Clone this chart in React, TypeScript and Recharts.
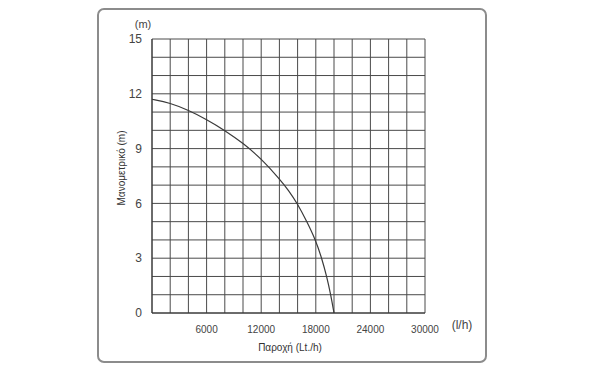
import { LineChart, Line, XAxis, YAxis, CartesianGrid } from 'recharts'

// flow (l/h) vs head (m)
const flow = [0, 2000, 4000, 6000, 8000, 10000, 12000, 14000, 15000, 16000, 17000, 18000, 18650, 19200, 19640, 20000]
const head = [11.7, 11.5, 11.1, 10.6, 10.0, 9.3, 8.45, 7.35, 6.72, 5.97, 5.02, 3.97, 3.0, 2.0, 1.0, 0]

const xGridTicks = [0, 2000, 4000, 6000, 8000, 10000, 12000, 14000, 16000, 18000, 20000, 22000, 24000, 26000, 28000, 30000]
const xLabelTicks = [6000, 12000, 18000, 24000, 30000]
const yGridTicks = [0, 1, 2, 3, 4, 5, 6, 7, 8, 9, 10, 11, 12, 13, 14, 15]
const yLabelTicks = [0, 3, 6, 9, 12, 15]

const data = flow.map((f, i) => ({ flow: f, head: head[i] }))

const W = 590
const H = 372
const Y_AXIS_W = 40
const X_AXIS_H = 30

export default function App() {
  return (
    <div style={{ position: 'absolute', left: 0, top: 0, width: W, height: H, background: '#fff', fontFamily: 'Liberation Sans, Arial, sans-serif' }}>
      <div
        style={{
          position: 'absolute',
          left: 97,
          top: 8,
          width: 386,
          height: 351,
          border: '2px solid #8c8c8c',
          borderRadius: 7,
        }}
      />
      <LineChart
        width={W}
        height={H}
        data={data}
        margin={{ top: 39, left: 152 - Y_AXIS_W, right: W - 425, bottom: H - 313 - X_AXIS_H }}
        style={{ position: 'absolute', left: 0, top: 0 }}
      >
        <CartesianGrid stroke="#4a4a4a" strokeWidth={1} />
        <XAxis
          dataKey="flow"
          type="number"
          domain={[0, 30000]}
          ticks={xGridTicks}
          interval={0}
          height={X_AXIS_H}
          tickLine={false}
          axisLine={{ stroke: '#333' }}
          tick={{ fontSize: 10, fill: '#444' }}
          tickMargin={7}
          tickFormatter={(v: number) => (xLabelTicks.includes(v) ? String(v) : '')}
        />
        <YAxis
          type="number"
          domain={[0, 15]}
          ticks={yGridTicks}
          interval={0}
          width={Y_AXIS_W}
          tickLine={false}
          axisLine={{ stroke: '#333' }}
          tick={{ fontSize: 12, fill: '#444' }}
          tickMargin={4}
          tickFormatter={(v: number) => (yLabelTicks.includes(v) ? String(v) : '')}
        />
        <Line
          type="basis"
          dataKey="head"
          stroke="#3a3a3a"
          strokeWidth={1.2}
          dot={false}
          isAnimationActive={false}
        />
      </LineChart>
      <svg width={W} height={H} style={{ position: 'absolute', left: 0, top: 0, pointerEvents: 'none' }}>
        <text x={143} y={28} fontSize={11} fill="#444" textAnchor="middle">(m)</text>
        <text x={462} y={329} fontSize={12} fill="#444" textAnchor="middle">(l/h)</text>
        <text x={290} y={351} fontSize={10} fill="#333" textAnchor="middle">Παροχή (Lt./h)</text>
        <text x={125} y={168} fontSize={10} fill="#333" textAnchor="middle" transform="rotate(-90 125 168)">
          Μανομετρικό (m)
        </text>
      </svg>
    </div>
  )
}
